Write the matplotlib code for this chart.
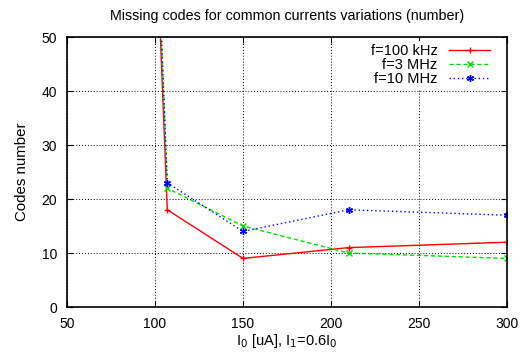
import numpy as np
import matplotlib
matplotlib.use("Agg")
import matplotlib.pyplot as plt

# currents (uA) and missing codes per frequency
I0 = [100, 107, 150, 210, 300]
codes_100k = [75, 18, 9, 11, 12]
codes_3M = [80, 22, 15, 10, 9]
codes_10M = [80, 23, 14, 18, 17]

plt.rcParams['font.family'] = ['Liberation Sans', 'DejaVu Sans']

fig = plt.figure(figsize=(5.25, 3.6), dpi=100)
ax = fig.add_axes([0.1276, 0.1472, 0.8381, 0.75])

ax.plot(I0, codes_100k, color='red', lw=1, marker='+', ms=5, mew=1, label='f=100 kHz')
ax.plot(I0, codes_3M, color='#00dd00', lw=1, ls=(0, (3, 2)), marker='x', ms=4, mew=1, label='f=3 MHz')
ax.plot(I0, codes_10M, color='blue', lw=1, ls=(0, (1, 2)), marker=(6, 2, 0), ms=5, mew=1, label='f=10 MHz')

ax.set_xlim(50, 300)
ax.set_ylim(0, 50)
ax.set_xticks(np.arange(50, 301, 50))
ax.set_yticks(np.arange(0, 51, 10))
ax.grid(True, color='black', ls=(0, (1, 2)), lw=0.7)
ax.tick_params(direction='in', top=True, right=True, length=4, labelsize=10, pad=7)
for s in ax.spines.values():
    s.set_linewidth(1.2)

ax.set_title('Missing codes for common currents variations (number)', fontsize=10.3, pad=12)
ax.set_xlabel(r'I$_0$ [uA], I$_1$=0.6I$_0$', fontsize=10.5, labelpad=1)
ax.set_ylabel('Codes number', fontsize=10.8, labelpad=9)

leg = ax.legend(loc='upper right', bbox_to_anchor=(0.978, 1.0), markerfirst=False,
                frameon=True, fontsize=10.5, handlelength=2.8, labelspacing=0.0,
                borderpad=0.2, handletextpad=0.8, borderaxespad=0.3)
leg.get_frame().set_edgecolor('none')
leg.get_frame().set_facecolor('white')
leg.get_frame().set_alpha(1)
for t in leg.get_texts():
    t.set_ha('right')
leg._legend_box.align = 'right'

fig.savefig('out.png', dpi=100)
